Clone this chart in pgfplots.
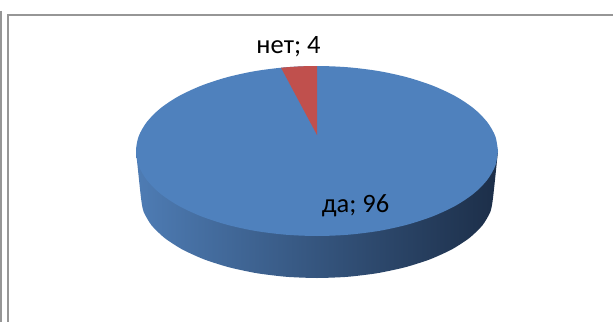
\documentclass[border=0pt]{standalone}
\usepackage{pgfplots}
\pgfplotsset{compat=1.18}
\usepackage{fontspec}
\setmainfont{Carlito}
\definecolor{pieblue}{RGB}{79,129,189}
\definecolor{piered}{RGB}{192,80,77}
\definecolor{sideleft}{RGB}{78,124,180}
\definecolor{sidemid}{RGB}{44,72,108}
\definecolor{sideright}{RGB}{28,46,72}
\definecolor{framegray}{RGB}{150,150,150}
\begin{document}
\begin{tikzpicture}[x=1bp,y=1bp]
\begin{axis}[
  scale only axis, width=613bp, height=322bp,
  xmin=0, xmax=613, ymin=0, ymax=322, y dir=reverse,
  hide axis, clip=true,
]
% page extent
\path (axis cs:0,0) rectangle (axis cs:613,322);

% frame lines
\addplot[framegray, line width=2.2bp, forget plot] coordinates {(0.8,11) (0.8,322)};
\addplot[framegray, line width=2.2bp, forget plot] coordinates {(8,322) (8,15) (613,15)};

% rim of the disc: lower half of the base ellipse
\addplot[draw=none, left color=sideleft, middle color=sidemid, right color=sideright, smooth, tension=0.4] coordinates {
 (136,151) (141,198) (143.7,211.9) (151.6,225.4) (164.6,238) (182.2,249.4)
 (203.9,259.3) (229,267.3) (256.8,273.2) (286.4,276.8) (317,278)
 (347.6,276.8) (377.2,273.2) (405,267.3) (430.1,259.3) (451.8,249.4)
 (469.4,238) (482.4,225.4) (490.3,211.9) (493,198) (498,151)
};

% да: 96 -- the whole top face
\addplot[draw=none, fill=pieblue, smooth] coordinates {
 (498,151) (495.3,165.8) (487.1,180.1) (473.8,193.5) (455.7,205.6) (433.3,216.1)
 (407.5,224.6) (378.9,230.9) (348.4,234.7) (317,236) (285.6,234.7) (255.1,230.9)
 (226.5,224.6) (200.7,216.1) (178.3,205.6) (160.2,193.5) (146.9,180.1) (138.7,165.8)
 (136,151) (138.7,136.2) (146.9,121.9) (160.2,108.5) (178.3,96.4) (200.7,85.9)
 (226.5,77.4) (255.1,71.1) (285.6,67.3) (317,66) (348.4,67.3) (378.9,71.1)
 (407.5,77.4) (433.3,85.9) (455.7,96.4) (473.8,108.5) (487.1,121.9) (495.3,136.2)
 (498,151)
};

% нет: 4 -- the narrow sector
\addplot[draw=none, fill=piered] coordinates {
 (317,66) (308,66.1) (299,66.4) (290,67) (281,67.7) (317,135)
};

\node[font=\fontsize{26.5bp}{30bp}\selectfont, text=black, inner sep=0pt] at (axis cs:288.5,46.5) {нет; 4};
\node[font=\fontsize{26.5bp}{30bp}\selectfont, text=black, inner sep=0pt] at (axis cs:355.5,205.5) {да; 96};
\end{axis}
\end{tikzpicture}
\end{document}
